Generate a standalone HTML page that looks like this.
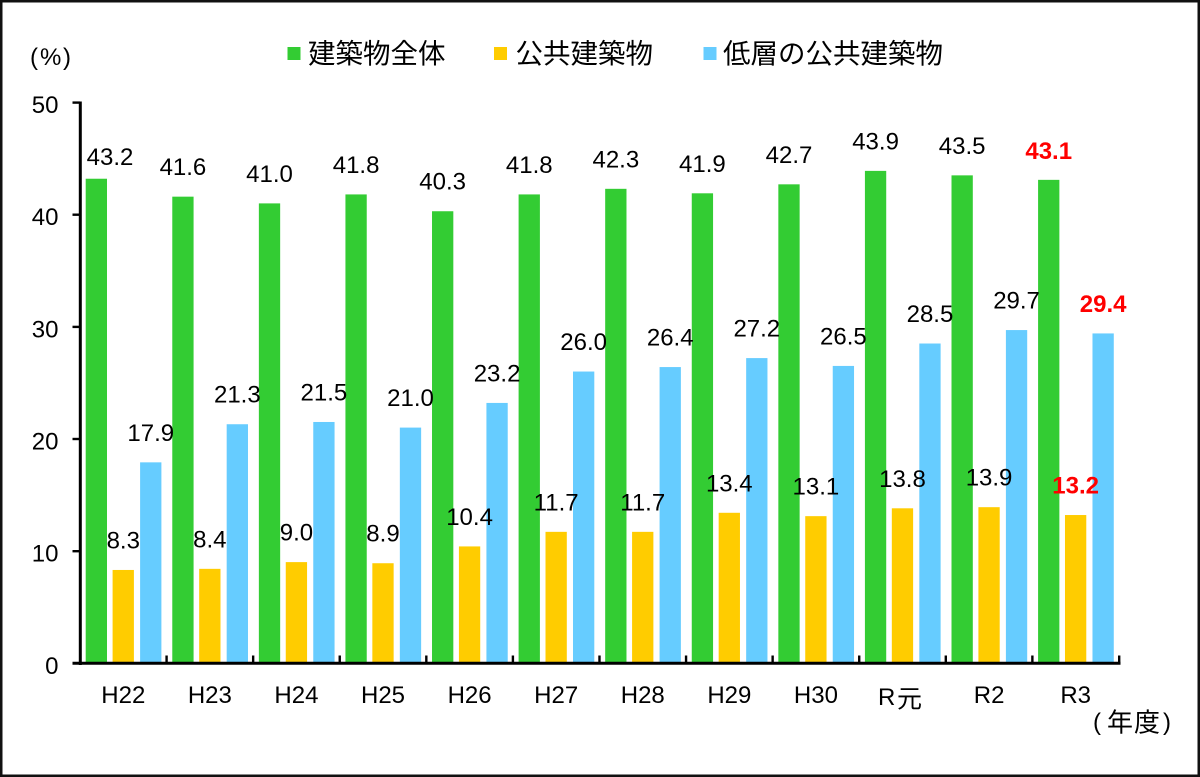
<!DOCTYPE html>
<html>
<head>
<meta charset="utf-8">
<style>
  html,body{margin:0;padding:0;background:#fff;}
  svg{display:block;}
  .n{font-family:"Liberation Sans",Arial,sans-serif;font-size:24px;fill:#000;}
  .r{font-family:"Liberation Sans",Arial,sans-serif;font-size:24px;fill:#FF0000;font-weight:bold;}
  .j{font-family:"Liberation Sans","Noto Sans CJK JP",sans-serif;fill:#000;}
</style>
</head>
<body>
<svg width="1200" height="777" viewBox="0 0 1200 777" xmlns="http://www.w3.org/2000/svg">
  <rect x="0" y="0" width="1200" height="777" fill="#fff"/>
  <rect x="1.25" y="1.25" width="1197.5" height="774.5" fill="none" stroke="#111" stroke-width="2.5"/>

  <!-- legend -->
  <rect x="287.5" y="47" width="13" height="13" fill="#33CC33"/>
  <text class="j" x="308" y="63" font-size="27.5">建築物全体</text>
  <rect x="494" y="47" width="13" height="13" fill="#FFCC00"/>
  <text class="j" x="515.5" y="63" font-size="27.5">公共建築物</text>
  <rect x="703.5" y="47" width="13" height="13" fill="#66CCFF"/>
  <text class="j" x="723" y="63" font-size="27.5">低層の公共建築物</text>

  <!-- (%) -->
  <text class="n" x="30" y="65" font-size="26">(</text>
  <text class="n" x="40" y="65" font-size="26">%</text>
  <text class="n" x="63" y="65" font-size="26">)</text>

  <!-- y tick labels -->
  <g class="n" text-anchor="end">
    <text x="58.5" y="673.8">0</text>
    <text x="58.5" y="561.7">10</text>
    <text x="58.5" y="449.5">20</text>
    <text x="58.5" y="337.4">30</text>
    <text x="58.5" y="225.2">40</text>
    <text x="58.5" y="113">50</text>
  </g>

  <!-- green bars -->
  <g fill="#33CC33">
    <rect x="85.7" y="178.73" width="21.3" height="485.27"/>
    <rect x="172.28" y="196.66" width="21.3" height="467.34"/>
    <rect x="258.86" y="203.39" width="21.3" height="460.61"/>
    <rect x="345.44" y="194.42" width="21.3" height="469.58"/>
    <rect x="432.02" y="211.24" width="21.3" height="452.76"/>
    <rect x="518.6" y="194.42" width="21.3" height="469.58"/>
    <rect x="605.18" y="188.82" width="21.3" height="475.18"/>
    <rect x="691.76" y="193.3" width="21.3" height="470.7"/>
    <rect x="778.34" y="184.33" width="21.3" height="479.67"/>
    <rect x="864.92" y="170.88" width="21.3" height="493.12"/>
    <rect x="951.5" y="175.36" width="21.3" height="488.64"/>
    <rect x="1038.08" y="179.85" width="21.3" height="484.15"/>
  </g>
  <!-- yellow bars -->
  <g fill="#FFCC00">
    <rect x="112.6" y="569.96" width="21.3" height="94.04"/>
    <rect x="199.18" y="568.84" width="21.3" height="95.16"/>
    <rect x="285.76" y="562.11" width="21.3" height="101.89"/>
    <rect x="372.34" y="563.23" width="21.3" height="100.77"/>
    <rect x="458.92" y="546.42" width="21.3" height="117.58"/>
    <rect x="545.5" y="531.84" width="21.3" height="132.16"/>
    <rect x="632.08" y="531.84" width="21.3" height="132.16"/>
    <rect x="718.66" y="512.79" width="21.3" height="151.21"/>
    <rect x="805.24" y="516.15" width="21.3" height="147.85"/>
    <rect x="891.82" y="508.3" width="21.3" height="155.7"/>
    <rect x="978.4" y="507.18" width="21.3" height="156.82"/>
    <rect x="1064.98" y="515.03" width="21.3" height="148.97"/>
  </g>
  <!-- blue bars -->
  <g fill="#66CCFF">
    <rect x="140.1" y="462.34" width="21.3" height="201.66"/>
    <rect x="226.68" y="424.23" width="21.3" height="239.77"/>
    <rect x="313.26" y="421.98" width="21.3" height="242.02"/>
    <rect x="399.84" y="427.59" width="21.3" height="236.41"/>
    <rect x="486.42" y="402.93" width="21.3" height="261.07"/>
    <rect x="573.0" y="371.54" width="21.3" height="292.46"/>
    <rect x="659.58" y="367.06" width="21.3" height="296.94"/>
    <rect x="746.16" y="358.09" width="21.3" height="305.91"/>
    <rect x="832.74" y="365.93" width="21.3" height="298.07"/>
    <rect x="919.32" y="343.51" width="21.3" height="320.49"/>
    <rect x="1005.9" y="330.06" width="21.3" height="333.94"/>
    <rect x="1092.48" y="333.43" width="21.3" height="330.57"/>
  </g>

  <!-- axes -->
  <g stroke="#000" fill="none">
    <line x1="80.3" y1="101.5" x2="80.3" y2="665" stroke-width="3"/>
    <line x1="72.5" y1="663.3" x2="1120.5" y2="663.3" stroke-width="3"/>
    <g stroke-width="2.4">
      <line x1="72.5" y1="102.6" x2="80" y2="102.6"/>
      <line x1="72.5" y1="214.7" x2="80" y2="214.7"/>
      <line x1="72.5" y1="326.9" x2="80" y2="326.9"/>
      <line x1="72.5" y1="439" x2="80" y2="439"/>
      <line x1="72.5" y1="551.2" x2="80" y2="551.2"/>
      <line x1="166.58" y1="655.5" x2="166.58" y2="663"/>
      <line x1="253.16" y1="655.5" x2="253.16" y2="663"/>
      <line x1="339.74" y1="655.5" x2="339.74" y2="663"/>
      <line x1="426.32" y1="655.5" x2="426.32" y2="663"/>
      <line x1="512.9" y1="655.5" x2="512.9" y2="663"/>
      <line x1="599.48" y1="655.5" x2="599.48" y2="663"/>
      <line x1="686.06" y1="655.5" x2="686.06" y2="663"/>
      <line x1="772.64" y1="655.5" x2="772.64" y2="663"/>
      <line x1="859.22" y1="655.5" x2="859.22" y2="663"/>
      <line x1="945.8" y1="655.5" x2="945.8" y2="663"/>
      <line x1="1032.38" y1="655.5" x2="1032.38" y2="663"/>
      <line x1="1119.2" y1="655.5" x2="1119.2" y2="663"/>
    </g>
  </g>

  <!-- data labels green -->
  <g class="n" text-anchor="middle">
    <text x="110" y="165">43.2</text>
    <text x="182.93" y="175.2">41.6</text>
    <text x="269.51" y="181.9">41.0</text>
    <text x="356.09" y="172.9">41.8</text>
    <text x="442.67" y="189.7">40.3</text>
    <text x="529.25" y="172.9">41.8</text>
    <text x="615.83" y="167.3">42.3</text>
    <text x="702.41" y="171.8">41.9</text>
    <text x="788.99" y="162.8">42.7</text>
    <text x="875.57" y="149.4">43.9</text>
    <text x="962.15" y="153.9">43.5</text>
  </g>
  <!-- data labels yellow -->
  <g class="n" text-anchor="middle">
    <text x="123.25" y="548.5">8.3</text>
    <text x="209.83" y="547.3">8.4</text>
    <text x="296.41" y="540.6">9.0</text>
    <text x="382.99" y="541.7">8.9</text>
    <text x="469.57" y="524.9">10.4</text>
    <text x="556.15" y="510.3">11.7</text>
    <text x="642.73" y="510.3">11.7</text>
    <text x="729.31" y="491.3">13.4</text>
    <text x="815.89" y="494.7">13.1</text>
    <text x="902.47" y="486.8">13.8</text>
    <text x="989.05" y="485.7">13.9</text>
  </g>
  <!-- data labels blue -->
  <g class="n" text-anchor="middle">
    <text x="150.75" y="440.8">17.9</text>
    <text x="237.33" y="402.7">21.3</text>
    <text x="323.91" y="400.5">21.5</text>
    <text x="410.49" y="406.1">21.0</text>
    <text x="497.07" y="381.4">23.2</text>
    <text x="583.65" y="350">26.0</text>
    <text x="670.23" y="345.6">26.4</text>
    <text x="756.81" y="336.6">27.2</text>
    <text x="843.39" y="344.4">26.5</text>
    <text x="929.97" y="322">28.5</text>
    <text x="1016.55" y="308.6">29.7</text>
  </g>
  <!-- red labels -->
  <g class="r" text-anchor="middle">
    <text x="1048.73" y="158.8">43.1</text>
    <text x="1075.63" y="493.5">13.2</text>
    <text x="1103.13" y="311.9">29.4</text>
  </g>

  <!-- x labels -->
  <g class="n" text-anchor="middle">
    <text x="123.29" y="703">H22</text>
    <text x="209.87" y="703">H23</text>
    <text x="296.45" y="703">H24</text>
    <text x="383.03" y="703">H25</text>
    <text x="469.61" y="703">H26</text>
    <text x="556.19" y="703">H27</text>
    <text x="642.77" y="703">H28</text>
    <text x="729.35" y="703">H29</text>
    <text x="815.93" y="703">H30</text>
    <text x="989.09" y="703">R2</text>
    <text x="1075.67" y="703">R3</text>
  </g>
  <text class="n" x="878" y="705">R</text>
  <text class="j" x="897" y="707.5" font-size="25">元</text>

  <!-- (年度) -->
  <text class="n" x="1093" y="730" font-size="26">(</text>
  <text class="j" x="1107" y="731.5" font-size="26">年</text>
  <text class="j" x="1134" y="731.5" font-size="26">度</text>
  <text class="n" x="1163" y="730" font-size="26">)</text>
</svg>
</body>
</html>
